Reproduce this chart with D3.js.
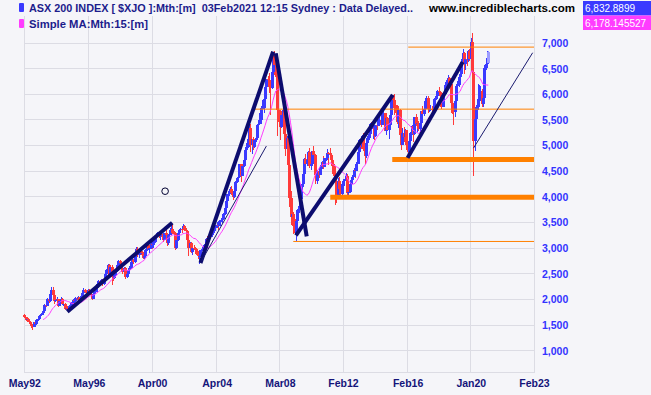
<!DOCTYPE html>
<html>
<head>
<meta charset="utf-8">
<script src="https://cdn.jsdelivr.net/npm/d3@7"></script>
<style>
  body { margin: 0; background: #f5f5f9; }
  svg { display: block; font-family: Arial, "Liberation Sans", sans-serif; }
</style>
</head>
<body>
<svg></svg>
<script>
// monthly bars, May 1992 .. Feb 2021 (open = previous close)
const firstOpen = 1700;
const close = [
  1650,1600,1620,1560,1530,1480,1470,1550,                       // 1992 May-Dec
  1520,1600,1620,1680,1700,1730,1780,1900,1880,2000,1960,2100,   // 1993
  2180,2080,1960,1990,2000,1880,1960,2010,1920,1920,1810,1840,   // 1994
  1820,1880,1900,1930,1980,1960,2020,2010,2040,1990,2060,2130,   // 1995
  2190,2150,2120,2190,2150,2100,2010,2110,2150,2230,2300,2350,   // 1996
  2320,2370,2300,2380,2500,2580,2680,2450,2630,2430,2420,2540,   // 1997
  2560,2680,2740,2710,2600,2540,2620,2430,2490,2580,2620,2730,   // 1998
  2760,2720,2860,2980,2860,2880,2940,2900,2810,2850,2970,3060,   // 1999
  2990,3010,3090,3060,3120,3240,3240,3300,3230,3280,3260,3155,   // 2000
  3290,3260,3100,3260,3360,3380,3300,3290,3000,3150,3290,3360,   // 2001
  3380,3370,3440,3350,3330,3160,3000,3100,2920,3000,2990,2976,   // 2002
  2880,2850,2850,2960,2990,3000,3080,3180,3170,3260,3220,3300,   // 2003
  3330,3420,3420,3450,3440,3530,3540,3560,3660,3790,3920,4050,   // 2004
  4110,4160,4070,3990,4120,4280,4370,4380,4640,4410,4600,4710,   // 2005
  4920,4980,5130,5350,5020,5120,4980,5110,5140,5400,5430,5640,   // 2006
  5740,5740,5900,6140,6290,6270,6150,6130,6440,6780,6570,6340,   // 2007
  5690,5670,5360,5600,5700,5220,4930,5140,4630,3980,3600,3660,   // 2008
  3440,3300,3530,3740,3820,3950,4250,4440,4740,4650,4720,4880,   // 2009
  4600,4640,4890,4810,4430,4300,4510,4420,4580,4670,4580,4750,   // 2010
  4750,4860,4850,4820,4710,4610,4410,4300,4010,4300,4160,4060,   // 2011
  4250,4300,4340,4400,4080,4090,4260,4320,4390,4520,4510,4650,   // 2012
  4880,5100,4970,5190,4930,4800,5050,5140,5220,5430,5320,5350,   // 2013
  5190,5400,5390,5490,5490,5400,5630,5630,5290,5530,5310,5410,   // 2014
  5590,5930,5890,5790,5780,5460,5700,5210,5020,5240,5170,5300,   // 2015
  5010,4880,5080,5250,5380,5230,5560,5430,5440,5320,5440,5670,   // 2016
  5620,5710,5860,5920,5720,5720,5720,5710,5680,5910,5970,6070,   // 2017
  6040,6020,5760,5980,6010,6190,6280,6320,6210,5830,5670,5650,   // 2018
  5860,6170,6180,6330,6400,6620,6810,6600,6690,6660,6850,6680,   // 2019
  7020,6440,5080,5520,5760,5900,5930,6060,5820,5930,6520,6590,   // 2020
  6610,6833                                                      // 2021
];
const high = [
  1710,1665,1640,1630,1575,1545,1495,1560,
  1580,1610,1650,1700,1720,1750,1800,1920,1930,2020,2030,2110,
  2240,2250,2090,2030,2040,2010,1970,2040,2030,1960,1930,1860,
  1870,1900,1920,1950,2000,2000,2040,2040,2060,2050,2070,2140,
  2220,2210,2170,2200,2210,2160,2110,2120,2170,2240,2310,2370,
  2380,2390,2400,2390,2510,2600,2700,2690,2650,2680,2480,2560,
  2590,2690,2770,2760,2720,2620,2640,2630,2520,2600,2660,2740,
  2790,2780,2870,3030,3020,2900,2980,2960,2920,2880,2980,3070,
  3120,3060,3160,3130,3140,3260,3280,3320,3310,3300,3330,3270,
  3300,3350,3280,3280,3400,3460,3480,3340,3310,3170,3310,3370,
  3400,3390,3480,3450,3390,3340,3180,3120,3120,3030,3060,3030,
  3010,2940,2920,2970,3020,3060,3090,3200,3230,3290,3300,3310,
  3360,3440,3450,3500,3460,3550,3580,3580,3680,3800,3940,4060,
  4120,4200,4210,4100,4130,4300,4390,4430,4650,4650,4610,4720,
  4940,5050,5150,5400,5430,5130,5160,5130,5190,5420,5500,5650,
  5770,5890,5920,6160,6300,6350,6410,6200,6450,6800,6850,6600,
  6380,5880,5690,5620,5810,5720,5280,5190,5180,4650,4110,3800,
  3700,3560,3560,3770,3860,3990,4260,4520,4750,4840,4800,4890,
  4960,4680,4900,5000,4830,4620,4520,4560,4630,4690,4790,4760,
  4830,4930,4880,4950,4830,4740,4640,4430,4350,4370,4390,4310,
  4280,4320,4340,4460,4440,4160,4300,4360,4420,4560,4550,4680,
  4890,5120,5120,5200,5250,4960,5070,5180,5270,5440,5460,5380,
  5400,5410,5440,5510,5550,5510,5640,5680,5640,5540,5550,5410,
  5600,5950,5980,6000,5870,5800,5710,5720,5300,5350,5360,5330,
  5300,5050,5150,5260,5400,5390,5560,5610,5480,5480,5470,5670,
  5770,5810,5900,5960,5960,5860,5790,5780,5740,5920,6000,6080,
  6150,6050,6030,5990,6080,6230,6290,6370,6330,6240,5890,5780,
  5890,6200,6250,6400,6460,6680,6880,6830,6740,6770,6870,6880,
  7100,7200,6440,5540,5800,6200,6180,6160,6110,6260,6580,6700,
  6850,6840
];
const low = [
  1640,1585,1590,1550,1510,1440,1400,1460,
  1500,1510,1580,1610,1660,1690,1720,1770,1850,1870,1930,1950,
  2080,2060,1920,1940,1960,1860,1870,1950,1900,1880,1790,1790,
  1780,1810,1860,1890,1920,1940,1950,1990,2000,1970,1980,2050,
  2110,2130,2080,2110,2130,2080,1990,2000,2100,2140,2220,2280,
  2300,2300,2270,2290,2370,2490,2570,2430,2440,2290,2360,2400,
  2480,2550,2660,2690,2580,2500,2530,2400,2420,2440,2560,2590,
  2700,2700,2710,2850,2830,2810,2870,2860,2790,2780,2850,2950,
  2960,2900,2990,2980,3010,3100,3200,3220,3200,3150,3220,3120,
  3150,3220,3050,3060,3250,3330,3270,3240,2960,2990,3140,3240,
  3320,3290,3350,3330,3250,3140,2850,2980,2900,2860,2960,2930,
  2860,2780,2690,2840,2940,2970,2990,3070,3130,3160,3180,3210,
  3260,3320,3350,3400,3350,3430,3500,3490,3550,3650,3780,3910,
  4020,4100,4040,3940,3980,4110,4270,4320,4380,4280,4410,4590,
  4700,4900,4960,5120,4880,4830,4920,4960,5060,5130,5310,5420,
  5600,5500,5630,5890,6090,6140,6030,5600,6100,6420,6370,6290,
  5180,5450,5110,5340,5540,5180,4790,4880,4420,3810,3450,3470,
  3280,3260,3145,3500,3690,3780,3870,4200,4430,4560,4600,4670,
  4560,4530,4630,4790,4250,4310,4260,4370,4420,4550,4540,4580,
  4700,4720,4630,4800,4620,4450,4380,3850,3880,3990,4060,4000,
  4040,4200,4220,4280,4040,3990,4070,4230,4280,4390,4370,4500,
  4650,4860,4940,4950,4900,4650,4760,4970,5100,5200,5230,5120,
  5110,5170,5310,5390,5450,5360,5400,5480,5290,5210,5280,5120,
  5330,5580,5730,5600,5640,5430,5340,5170,4920,5010,5070,5040,
  4920,4710,4880,5000,5200,5060,5210,5380,5260,5290,5150,5400,
  5590,5580,5640,5800,5630,5650,5670,5650,5640,5670,5880,5930,
  5970,5840,5710,5750,5950,5990,6140,6200,6170,5640,5610,5410,
  5550,5830,6050,6150,6260,6390,6590,6400,6480,6560,6620,6640,
  6650,6380,4402,4900,5290,5700,5780,5860,5760,5760,5930,6480,
  6530,6610
];

const maPeriod = 15;
const yTicks = d3.range(1000, 7001, 500);
const tickLabels = ['May92','May96','Apr00','Apr04','Mar08','Feb12','Feb16','Jan20','Feb23'];
const tickIndex  = [0, 48, 95, 143, 190, 237, 285, 332, 379];

// drawn annotations, in [month index, index value]
const trendThick = [
  [[32, 1760], [110, 3495]],
  [[131, 2710], [185, 6830]],
  [[187, 6800], [210, 3230]],
  [[202, 3250], [274, 5990]],
  [[285, 4760], [326, 6630]]
];
const trendThin = [
  [[132, 2760], [180, 4990]],
  [[334, 4950], [378, 6810]]
];
const levelThin  = [[285.5, 6920], [170, 5710], [200, 3130]];
const levelThick = [[273.6, 4730], [227.5, 3990]];
const marker = [104.7, 4110];
const lastValues = ['6,832.8899', '6,178.145527'];

const width = 651, height = 395;
const plotLeft = 24.3, plotRight = 534, plotTop = 16, plotBottom = 372.7;

const svg = d3.select('svg').attr('width', width).attr('height', height);
svg.append('rect').attr('width', width).attr('height', height).attr('fill', '#f5f5f9');

const x = d3.scaleLinear().domain([0, 379]).range([plotLeft, plotRight]);
const y = d3.scaleLinear().domain([1000, 7000]).range([350.7, 43]);

// grid
const grid = svg.append('g').attr('stroke', '#dcdce4').attr('shape-rendering', 'crispEdges');
grid.selectAll('.h').data(yTicks).enter().append('line')
  .attr('x1', plotLeft).attr('x2', plotRight)
  .attr('y1', d => y(d)).attr('y2', d => y(d));
grid.selectAll('.v').data(tickIndex).enter().append('line')
  .attr('x1', d => x(d)).attr('x2', d => x(d))
  .attr('y1', plotTop).attr('y2', plotBottom);
grid.append('line').attr('x1', plotLeft).attr('x2', plotRight).attr('y1', plotBottom).attr('y2', plotBottom);

// y axis labels on the right
svg.append('g')
  .attr('transform', `translate(${plotRight},0)`)
  .call(d3.axisRight(y).tickValues(yTicks).tickFormat(d3.format(',')).tickSize(0).tickPadding(8))
  .call(g => g.select('.domain').remove())
  .selectAll('text')
  .attr('fill', '#3333ff').attr('font-size', '10.5px').attr('font-weight', 'bold')
  .attr('font-family', 'Arial, "Liberation Sans", sans-serif');

// x axis labels
svg.append('g')
  .attr('transform', `translate(0,${plotBottom})`)
  .call(d3.axisBottom(x).tickValues(tickIndex).tickFormat((d, i) => tickLabels[i]).tickSize(0).tickPadding(7))
  .call(g => g.select('.domain').remove())
  .selectAll('text')
  .attr('fill', '#14147a').attr('font-size', '10.5px').attr('font-weight', 'bold')
  .attr('font-family', 'Arial, "Liberation Sans", sans-serif');

// candles
const bars = close.map((c, i) => ({
  i: i,
  o: i === 0 ? firstOpen : close[i - 1],
  c: c, h: high[i], l: low[i]
}));
const barColor = d => d.i === bars.length - 1 ? '#9c9cff' : (d.c >= d.o ? '#3a3aff' : '#ff3a3a');

const candles = svg.append('g').attr('shape-rendering', 'crispEdges');
candles.selectAll('line').data(bars).enter().append('line')
  .attr('x1', d => Math.round(x(d.i)) + 0.5).attr('x2', d => Math.round(x(d.i)) + 0.5)
  .attr('y1', d => y(d.h)).attr('y2', d => y(d.l))
  .attr('stroke', barColor).attr('stroke-width', 1);
candles.selectAll('rect').data(bars).enter().append('rect')
  .attr('x', d => Math.round(x(d.i)) - 1)
  .attr('width', 3)
  .attr('y', d => y(Math.max(d.o, d.c)))
  .attr('height', d => Math.max(1, Math.abs(y(d.o) - y(d.c))))
  .attr('fill', barColor);

// 15 month simple moving average
const ma = [];
for (let i = maPeriod - 1; i < close.length; i++) {
  ma.push([i, d3.mean(close.slice(i - maPeriod + 1, i + 1))]);
}
svg.append('path')
  .datum(ma)
  .attr('d', d3.line().x(d => x(d[0])).y(d => y(d[1])))
  .attr('fill', 'none').attr('stroke', '#ff3cff').attr('stroke-width', 1);

// annotations
const seg = d3.line().x(d => x(d[0])).y(d => y(d[1]));
svg.selectAll('.lvlThin').data(levelThin).enter().append('line')
  .attr('x1', d => x(d[0])).attr('x2', plotRight)
  .attr('y1', d => y(d[1])).attr('y2', d => y(d[1]))
  .attr('stroke', '#ff8000').attr('stroke-width', 1);
svg.selectAll('.lvlThick').data(levelThick).enter().append('line')
  .attr('x1', d => x(d[0])).attr('x2', plotRight)
  .attr('y1', d => y(d[1])).attr('y2', d => y(d[1]))
  .attr('stroke', '#ff8000').attr('stroke-width', 5);
svg.selectAll('.thick').data(trendThick).enter().append('path')
  .attr('d', seg).attr('stroke', '#0c0c6e').attr('stroke-width', 4).attr('fill', 'none');
svg.selectAll('.thin').data(trendThin).enter().append('path')
  .attr('d', seg).attr('stroke', '#1a1a6e').attr('stroke-width', 1).attr('fill', 'none');
svg.append('circle')
  .attr('cx', x(marker[0])).attr('cy', y(marker[1])).attr('r', 3.3)
  .attr('fill', 'none').attr('stroke', '#000030').attr('stroke-width', 1);

// legend
svg.append('rect').attr('x', 19).attr('y', 3).attr('width', 5).attr('height', 9).attr('fill', '#3a3aff').attr('rx', 1);
svg.append('rect').attr('x', 19).attr('y', 19).attr('width', 5).attr('height', 9).attr('fill', '#ff3cff').attr('rx', 1);
svg.append('text').attr('x', 29).attr('y', 11.5)
  .style('white-space', 'pre')
  .attr('font-size', '10px').attr('font-weight', 'bold').attr('fill', '#1c1c8c')
  .attr('textLength', 384).attr('lengthAdjust', 'spacingAndGlyphs')
  .text('ASX 200 INDEX [ $XJO ]:Mth:[m]  03Feb2021 12:15 Sydney : Data Delayed..');
svg.append('text').attr('x', 29).attr('y', 27.5)
  .attr('font-size', '10px').attr('font-weight', 'bold').attr('fill', '#1c1c8c')
  .attr('textLength', 119).attr('lengthAdjust', 'spacingAndGlyphs')
  .text('Simple MA:Mth:15:[m]');
svg.append('text').attr('x', 429).attr('y', 11.5)
  .attr('font-size', '11px').attr('font-weight', 'bold').attr('fill', '#000')
  .attr('textLength', 146).attr('lengthAdjust', 'spacingAndGlyphs')
  .text('www.incrediblecharts.com');

// last value boxes
const boxColors = ['#3a3aff', '#ff3cff'];
svg.selectAll('.valbox').data(lastValues).enter().append('rect')
  .attr('x', 583).attr('y', (d, i) => 1 + i * 14.5)
  .attr('width', 68).attr('height', 14.5)
  .attr('fill', (d, i) => boxColors[i]);
svg.selectAll('.valtext').data(lastValues).enter().append('text')
  .attr('x', 585).attr('y', (d, i) => 12 + i * 14.5)
  .attr('font-size', '10px').attr('fill', '#fff')
  .text(d => d);
</script>
</body>
</html>
